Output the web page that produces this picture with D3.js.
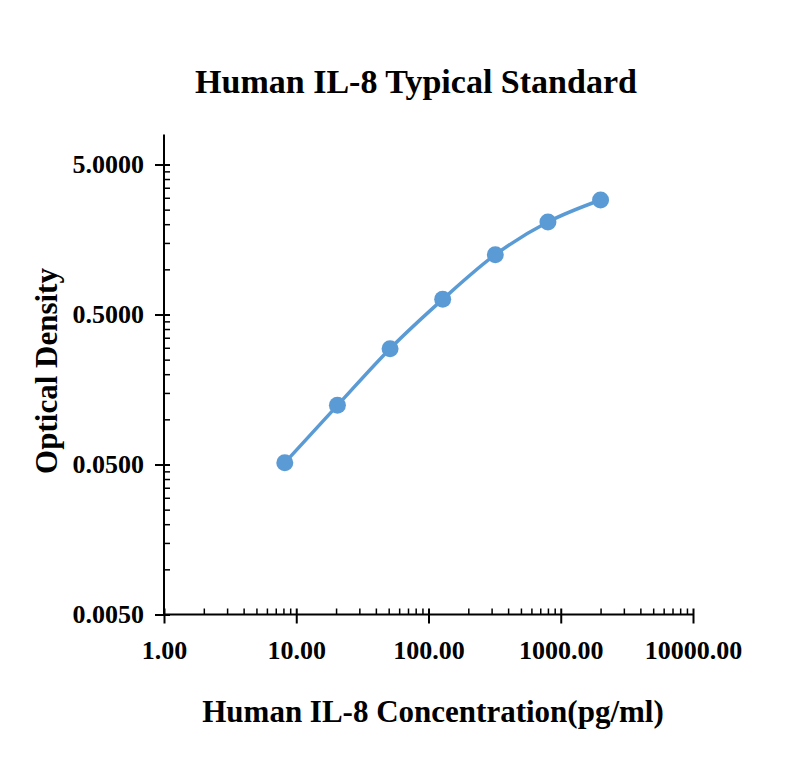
<!DOCTYPE html>
<html><head><meta charset="utf-8">
<script src="https://cdn.jsdelivr.net/npm/d3@7"></script>
<style>
body{margin:0;background:#fff;}
text{font-family:"Liberation Serif","Times New Roman",serif;font-weight:bold;fill:#000;}
</style></head>
<body><svg id="c" width="800" height="772"></svg>
<script>
const concentrations = [8.192, 20.48, 51.2, 128, 320, 800, 2000];
const opticalDensity = [0.0514, 0.124, 0.296, 0.631, 1.252, 2.07, 2.90];
const xMajorTicks = [1, 10, 100, 1000, 10000];
const yMajorTicks = [0.005, 0.05, 0.5, 5];
const title = "Human IL-8 Typical Standard";
const xTitle = "Human IL-8 Concentration(pg/ml)";
const yTitle = "Optical Density";

const svg = d3.select("#c");
const mLeft = 164, mRight = 693, mTop = 164.5, mBottom = 614.5;
const x = d3.scaleLog().domain([1, 10000]).range([mLeft, mRight]);
const y = d3.scaleLog().domain([0.005, 5]).range([mBottom, mTop]);

const xMinor = [];
xMajorTicks.slice(0, -1).forEach(d => { for (let k = 2; k <= 9; k++) xMinor.push(d * k); });
const yMinor = [];
yMajorTicks.slice(0, -1).forEach(d => { for (let k = 2; k <= 9; k++) yMinor.push(d * k); });

// axis lines
svg.append("line").attr("x1", mLeft).attr("x2", mLeft).attr("y1", mBottom).attr("y2", mTop - 30)
  .attr("stroke", "#000").attr("stroke-width", 2);
svg.append("line").attr("x1", mLeft).attr("x2", mRight).attr("y1", mBottom).attr("y2", mBottom)
  .attr("stroke", "#000").attr("stroke-width", 2);

// x axis
const gx = svg.append("g").attr("transform", `translate(0,${mBottom})`)
  .call(d3.axisBottom(x).tickValues(xMajorTicks).tickFormat(d3.format(".2f")).tickSize(9).tickPadding(17));
gx.select(".domain").remove();
gx.selectAll(".tick line").attr("stroke-width", 2).attr("y1", -6);
gx.selectAll(".tick text").attr("font-size", 26).attr("font-family", "Liberation Serif").attr("font-weight", "bold").attr("fill", "#000");
const gxm = svg.append("g").attr("transform", `translate(0,${mBottom})`)
  .call(d3.axisTop(x).tickValues(xMinor).tickFormat("").tickSize(6));
gxm.select(".domain").remove();
gxm.selectAll(".tick line").attr("stroke-width", 1.5);

// y axis
const gy = svg.append("g").attr("transform", `translate(${mLeft},0)`)
  .call(d3.axisLeft(y).tickValues(yMajorTicks).tickFormat(d3.format(".4f")).tickSize(9).tickPadding(11));
gy.select(".domain").remove();
gy.selectAll(".tick line").attr("stroke-width", 2).attr("x1", 6);
gy.selectAll(".tick text").attr("font-size", 26).attr("font-family", "Liberation Serif").attr("font-weight", "bold").attr("fill", "#000");
const gym = svg.append("g").attr("transform", `translate(${mLeft},0)`)
  .call(d3.axisRight(y).tickValues(yMinor).tickFormat("").tickSize(6));
gym.select(".domain").remove();
gym.selectAll(".tick line").attr("stroke-width", 1.5);

// curve
const pts = concentrations.map((c, i) => [x(c), y(opticalDensity[i])]);
svg.append("path").attr("d", d3.line().curve(d3.curveMonotoneX)(pts))
  .attr("fill", "none").attr("stroke", "#5b9bd5").attr("stroke-width", 3.5);
svg.selectAll("circle.pt").data(pts).join("circle").attr("class", "pt")
  .attr("cx", d => d[0]).attr("cy", d => d[1]).attr("r", 8.5).attr("fill", "#5b9bd5");

// titles
svg.append("text").attr("x", 416).attr("y", 93).attr("text-anchor", "middle").attr("font-size", 34).text(title);
svg.append("text").attr("x", 433).attr("y", 722).attr("text-anchor", "middle").attr("font-size", 31).text(xTitle);
svg.append("text").attr("transform", "translate(57,371) rotate(-90)").attr("text-anchor", "middle").attr("font-size", 31).text(yTitle);
</script></body></html>
